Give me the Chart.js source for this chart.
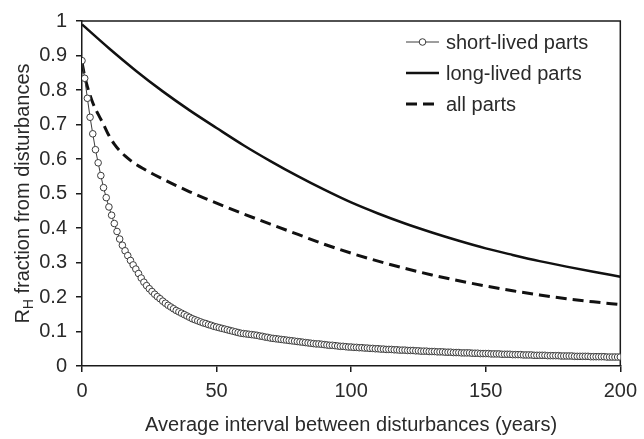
<!DOCTYPE html>
<html>
<head>
<meta charset="utf-8">
<script src="https://cdn.jsdelivr.net/npm/chart.js@4/dist/chart.umd.min.js"></script>
<style>
  html, body { margin: 0; padding: 0; background: #ffffff; }
  #wrap { width: 644px; height: 439px; }
</style>
</head>
<body>
<div id="wrap"><canvas id="c" width="644" height="439"></canvas></div>
<script>
// ---------- data ----------
const shortYears = [
  0,1,2,3,4,5,6,7,8,9,10,11,12,13,14,15,16,17,18,19,20,21,22,23,24,25,26,27,28,29,30,
  31,32,33,34,35,36,37,38,39,40,41,42,43,44,45,46,47,48,49,50,51,52,53,54,55,56,57,58,59,60,
  61,62,63,64,65,66,67,68,69,70,71,72,73,74,75,76,77,78,79,80,81,82,83,84,85,86,87,88,89,90,
  91,92,93,94,95,96,97,98,99,100,101,102,103,104,105,106,107,108,109,110,111,112,113,114,115,
  116,117,118,119,120,121,122,123,124,125,126,127,128,129,130,131,132,133,134,135,136,137,138,
  139,140,141,142,143,144,145,146,147,148,149,150,151,152,153,154,155,156,157,158,159,160,161,
  162,163,164,165,166,167,168,169,170,171,172,173,174,175,176,177,178,179,180,181,182,183,184,
  185,186,187,188,189,190,191,192,193,194,195,196,197,198,199,200
];
const shortLived = [
  0.885,0.834,0.776,0.721,0.673,0.627,0.589,0.552,0.517,0.488,
  0.461,0.437,0.413,0.390,0.368,0.350,0.334,0.320,0.306,0.293,
  0.281,0.268,0.255,0.243,0.233,0.224,0.216,0.208,0.201,0.195,
  0.188,0.182,0.176,0.171,0.166,0.161,0.157,0.153,0.149,0.145,
  0.141,0.137,0.134,0.131,0.128,0.125,0.123,0.120,0.118,0.115,
  0.113,0.111,0.109,0.107,0.105,0.103,0.101,0.099,0.097,0.095,
  0.094,0.093,0.092,0.091,0.090,0.089,0.087,0.086,0.084,0.083,
  0.081,0.080,0.079,0.078,0.077,0.076,0.075,0.074,0.073,0.072,
  0.071,0.070,0.069,0.068,0.067,0.066,0.065,0.064,0.064,0.063,
  0.062,0.061,0.060,0.060,0.059,0.058,0.057,0.057,0.056,0.055,
  0.055,
  0.054,0.054,0.053,0.053,0.052,0.052,0.051,0.051,0.050,0.050,
  0.049,0.049,0.048,0.048,0.048,0.047,0.047,0.046,0.046,0.046,
  0.045,0.045,0.045,0.044,0.044,0.043,0.043,0.043,0.042,0.042,
  0.042,0.041,0.041,0.041,0.040,0.040,0.040,0.039,0.039,0.039,
  0.038,0.038,0.038,0.038,0.037,0.037,0.037,0.036,0.036,0.036,
  0.036,0.035,0.035,0.035,0.035,0.034,0.034,0.034,0.034,0.033,
  0.033,0.033,0.033,0.032,0.032,0.032,0.032,0.031,0.031,0.031,
  0.031,0.031,0.030,0.030,0.030,0.030,0.030,0.029,0.029,0.029,
  0.029,0.029,0.028,0.028,0.028,0.028,0.028,0.028,0.027,0.027,
  0.027,0.027,0.027,0.027,0.026,0.026,0.026,0.026,0.026,0.026
];

const longYears = [0,10,20,30,40,50,60,70,80,90,100,110,120,130,140,150,160,170,180,190,200];
const longLived = [0.990,0.921,0.856,0.796,0.741,0.690,0.640,0.594,0.551,0.511,0.474,0.442,0.413,0.387,0.363,0.341,0.322,0.304,0.288,0.273,0.259];

const allYears = [0,1,2,3,4,5,6,8,10,12,14,16,18,20,23,26,30,35,40,45,50,60,70,80,90,100,110,120,130,140,150,160,170,180,190,200];
const allParts = [0.880,0.840,0.810,0.785,0.763,0.745,0.730,0.700,0.668,0.643,0.624,0.609,0.596,0.585,0.571,0.558,0.542,0.523,0.505,0.488,0.472,0.441,0.411,0.382,0.353,0.327,0.304,0.283,0.264,0.247,0.232,0.218,0.206,0.195,0.186,0.178];

const seriesNames = ['short-lived parts', 'long-lived parts', 'all parts'];
const xTicks = [0, 50, 100, 150, 200];
const yTicks = [0, 0.1, 0.2, 0.3, 0.4, 0.5, 0.6, 0.7, 0.8, 0.9, 1];
const xTitle = 'Average interval between disturbances (years)';
const yTitleMain = 'R';
const yTitleSub = 'H';
const yTitleRest = ' fraction from disturbances';

// ---------- styling ----------
const FONT = '"Liberation Sans", Arial, sans-serif';
const TEXT = '#2a2a2a';
const AXIS = '#1a1a1a';
const SHORT_COL = '#3c3c3c';
const LINE_COL = '#111111';
const DASH = [11, 6];

const pts = (xs, ys) => xs.map((x, i) => ({ x: x, y: ys[i] }));

const frame = {
  id: 'frame',
  beforeDatasetsDraw(chart) {
    const { ctx, chartArea: a } = chart;
    ctx.save();
    ctx.strokeStyle = AXIS;
    ctx.lineWidth = 1.5;
    ctx.beginPath();
    ctx.moveTo(a.left, a.top);
    ctx.lineTo(a.right, a.top);
    ctx.lineTo(a.right, a.bottom);
    ctx.stroke();
    ctx.restore();
  }
};

const yTitle = {
  id: 'yTitle',
  afterDraw(chart) {
    const { ctx, chartArea: a } = chart;
    ctx.save();
    ctx.translate(29, (a.top + a.bottom) / 2);
    ctx.rotate(-Math.PI / 2);
    ctx.fillStyle = TEXT;
    ctx.textBaseline = 'alphabetic';
    ctx.textAlign = 'left';
    const big = '20px ' + FONT, small = '14px ' + FONT;
    ctx.font = big;
    const wR = ctx.measureText(yTitleMain).width;
    const wRest = ctx.measureText(yTitleRest).width;
    ctx.font = small;
    const wH = ctx.measureText(yTitleSub).width;
    let x = -(wR + wH + wRest) / 2;
    ctx.font = big; ctx.fillText(yTitleMain, x, 0); x += wR;
    ctx.font = small; ctx.fillText(yTitleSub, x, 4); x += wH;
    ctx.font = big; ctx.fillText(yTitleRest, x, 0);
    ctx.restore();
  }
};

const insideLegend = {
  id: 'insideLegend',
  afterDraw(chart) {
    const { ctx } = chart;
    const x0 = 406, x1 = 439, tx = 446;
    const rows = [42, 73, 104];
    ctx.save();
    ctx.font = '20px ' + FONT;
    ctx.fillStyle = TEXT;
    ctx.textBaseline = 'middle';
    ctx.textAlign = 'left';
    chart.data.datasets.forEach((ds, i) => {
      const y = rows[i];
      ctx.save();
      ctx.strokeStyle = ds.borderColor;
      ctx.lineWidth = ds.borderWidth;
      ctx.setLineDash(ds.borderDash || []);
      ctx.beginPath();
      ctx.moveTo(x0, y); ctx.lineTo(x1, y);
      ctx.stroke();
      if (ds.pointRadius > 0) {
        ctx.setLineDash([]);
        ctx.beginPath();
        ctx.arc((x0 + x1) / 2, y, ds.pointRadius, 0, Math.PI * 2);
        ctx.fillStyle = ds.pointBackgroundColor;
        ctx.fill();
        ctx.lineWidth = ds.pointBorderWidth;
        ctx.strokeStyle = ds.pointBorderColor;
        ctx.stroke();
      }
      ctx.restore();
      ctx.fillText(ds.label, tx, y + 1);
    });
    ctx.restore();
  }
};

new Chart(document.getElementById('c'), {
  type: 'line',
  data: {
    datasets: [
      {
        label: seriesNames[0],
        data: pts(shortYears, shortLived),
        borderColor: SHORT_COL,
        borderWidth: 1,
        pointRadius: 3.3,
        pointBackgroundColor: '#ffffff',
        pointBorderColor: SHORT_COL,
        pointBorderWidth: 1,
        tension: 0
      },
      {
        label: seriesNames[1],
        data: pts(longYears, longLived),
        borderColor: LINE_COL,
        borderWidth: 2.5,
        pointRadius: 0,
        cubicInterpolationMode: 'monotone'
      },
      {
        label: seriesNames[2],
        data: pts(allYears, allParts),
        borderColor: LINE_COL,
        borderWidth: 3,
        borderDash: DASH,
        pointRadius: 0,
        cubicInterpolationMode: 'monotone'
      }
    ]
  },
  options: {
    responsive: false,
    animation: false,
    events: [],
    layout: { padding: { left: 0, right: 16, top: 19, bottom: 0 } },
    plugins: {
      legend: { display: false },
      tooltip: { enabled: false },
      title: { display: false }
    },
    scales: {
      x: {
        type: 'linear',
        min: 0, max: 200,
        afterBuildTicks: s => { s.ticks = xTicks.map(v => ({ value: v })); },
        afterFit: s => { s.height = 73; },
        grid: { drawOnChartArea: false, drawTicks: true, tickLength: 6, color: AXIS, lineWidth: 1.5 },
        border: { color: AXIS, width: 1.5 },
        ticks: { color: TEXT, font: { family: FONT, size: 20 }, padding: 7, maxRotation: 0,
                 callback: v => String(v) },
        title: { display: true, text: xTitle, color: TEXT, font: { family: FONT, size: 20 },
                 padding: { top: 0, bottom: 2 } }
      },
      y: {
        type: 'linear',
        min: 0, max: 1,
        afterBuildTicks: s => { s.ticks = yTicks.map(v => ({ value: v })); },
        afterFit: s => { s.width = 82; },
        grid: { drawOnChartArea: false, drawTicks: true, tickLength: 6, color: AXIS, lineWidth: 1.5 },
        border: { color: AXIS, width: 1.5 },
        ticks: { color: TEXT, font: { family: FONT, size: 20 }, padding: 9,
                 callback: v => String(Math.round(v * 10) / 10) }
      }
    }
  },
  plugins: [frame, yTitle, insideLegend]
});
</script>
</body>
</html>
